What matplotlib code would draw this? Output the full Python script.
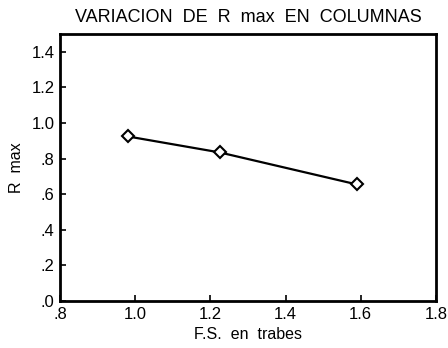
import matplotlib.pyplot as plt

# Factor de seguridad en trabes vs. R max en columnas
fs_trabes = [0.98, 1.225, 1.59]
r_max = [0.925, 0.835, 0.655]

x_ticks = [0.8, 1.0, 1.2, 1.4, 1.6, 1.8]
x_labels = ['.8', '1.0', '1.2', '1.4', '1.6', '1.8']
y_ticks = [0.0, 0.2, 0.4, 0.6, 0.8, 1.0, 1.2, 1.4]
y_labels = ['.0', '.2', '.4', '.6', '.8', '1.0', '1.2', '1.4']

plt.rcParams['font.family'] = ['Liberation Sans', 'DejaVu Sans']

fig = plt.figure(figsize=[4.48, 3.48], dpi=100)
ax = fig.add_axes([0.134, 0.135, 0.839, 0.767])

ax.plot(fs_trabes, r_max, color='black', linewidth=1.6, marker='D',
        markersize=6.5, markerfacecolor='white', markeredgecolor='black',
        markeredgewidth=1.5)

ax.set_xlim(0.8, 1.8)
ax.set_ylim(0.0, 1.5)
ax.set_xticks(x_ticks)
ax.set_xticklabels(x_labels)
ax.set_yticks(y_ticks)
ax.set_yticklabels(y_labels)
ax.tick_params(direction='in', length=4, width=1.2, labelsize=12, colors='black')
ax.tick_params(axis='x', pad=4)
ax.tick_params(axis='y', pad=4)

for lado in ax.spines.values():
    lado.set_linewidth(2)

ax.set_title('VARIACION  DE  R  max  EN  COLUMNAS', fontsize=13, pad=9)
ax.set_xlabel('F.S.  en  trabes', fontsize=11.5, labelpad=4)
ax.set_ylabel('R  max', fontsize=11.5, labelpad=5)

plt.savefig('out.png')
